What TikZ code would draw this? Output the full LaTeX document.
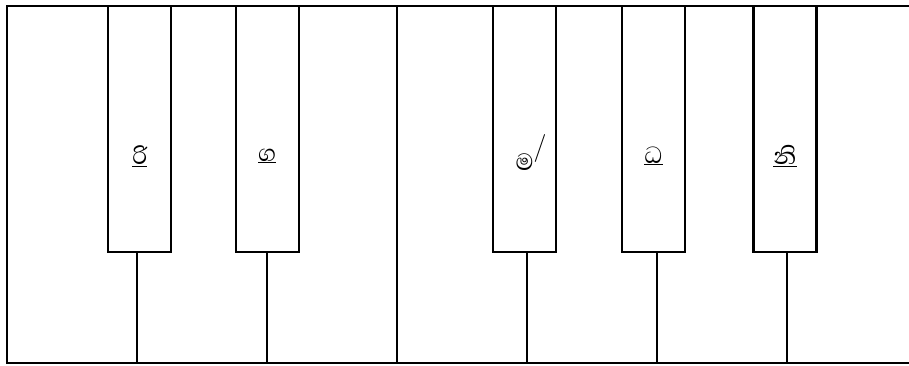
\documentclass[tikz,border=0pt]{standalone}
\usepackage{fontspec}
\newfontfamily\sinhala[Script=Sinhala]{Abhaya Libre}

\tikzset{
  keyline/.style={line width=2.2pt},
  blackkey/.style={draw, line width=2.2pt, fill=white, minimum width=63pt, minimum height=246pt, inner sep=0pt},
  swara/.style={font=\sinhala\fontsize{30}{32}\selectfont, inner sep=0pt},
}

\begin{document}
\begin{tikzpicture}[x=1pt,y=-1pt]
  \useasboundingbox (0,0) rectangle (909,365);
  % outline of the keyboard
  \coordinate (top) at (7,6);
  \coordinate (bot) at (7,363);
  \draw[keyline] (909,6) -- (top) -- (bot) -- (909,363);
  \coordinate (mtop) at (397,6);
  \coordinate (mbot) at (397,363);
  \draw[keyline] (mtop) -- (mbot);

  % black keys
  \node[blackkey] (kRi) at (139.8,129) {};
  \node[blackkey] (kGa) at (267.2,129) {};
  \node[blackkey] (kMa) at (524.7,129) {};
  \node[blackkey] (kDha) at (653.5,129) {};
  \node[blackkey] (kNi) at (785,129) {};

  % white key borders under the black keys
  \coordinate (sRi) at (137,363);
  \coordinate (sGa) at (267,363);
  \coordinate (sMa) at (527,363);
  \coordinate (sDha) at (657,363);
  \coordinate (sNi) at (787,363);
  \draw[keyline] (kRi.south -| sRi) -- (sRi);
  \draw[keyline] (kGa.south -| sGa) -- (sGa);
  \draw[keyline] (kMa.south -| sMa) -- (sMa);
  \draw[keyline] (kDha.south -| sDha) -- (sDha);
  \draw[keyline] (kNi.south -| sNi) -- (sNi);

  % swara names
  \node[swara] (lRi) at (kRi.center |- 0,156) {\underline{රි}};
  \node[swara] (lGa) at (kGa.center |- 0,156) {\underline{ග}};
  \node[swara] (lMa) at (kMa.center |- 0,153) {ම\rlap{\raisebox{15pt}{\fontfamily{lmr}\fontsize{28}{28}\selectfont /}}};
  \node[swara] (lDha) at (kDha.center |- 0,156) {\underline{ධ}};
  \node[swara] (lNi) at (kNi.center |- 0,156) {\underline{නි}};
\end{tikzpicture}
\end{document}
